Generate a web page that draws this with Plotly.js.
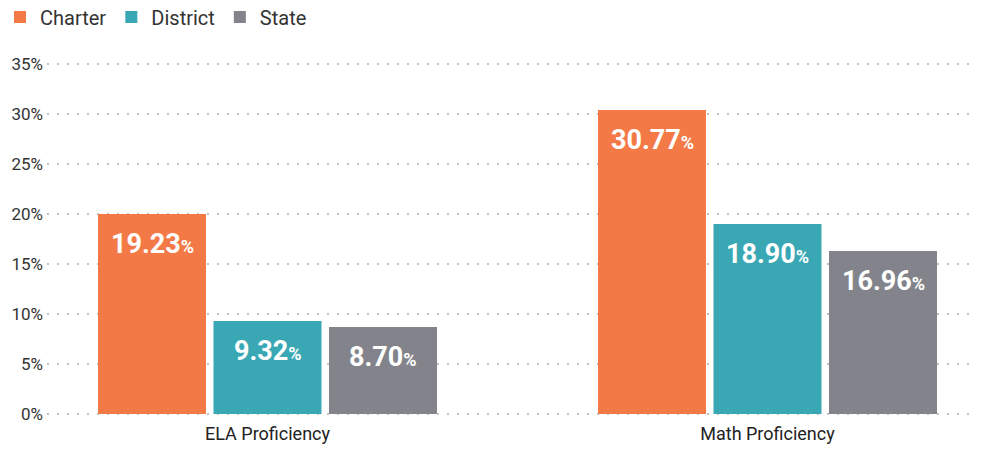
<!DOCTYPE html>
<html>
<head>
<meta charset="utf-8">
<script src="https://cdn.plot.ly/plotly-3.0.1.min.js"></script>
<style>html,body{margin:0;padding:0;background:#fff;}#chart{width:983px;height:450px;}</style>
</head>
<body>
<div id="chart"></div>
<script>
const categories = ['ELA Proficiency', 'Math Proficiency'];
const seriesNames = ['Charter', 'District', 'State'];
const charterValues = [20.0, 30.4];
const districtValues = [9.3, 19.0];
const stateValues = [8.7, 16.3];
const charterLabels = ['19.23', '30.77'];
const districtLabels = ['9.32', '18.90'];
const stateLabels = ['8.70', '16.96'];
const yTicks = [0, 5, 10, 15, 20, 25, 30, 35];
const yTickText = ['0%', '5%', '10%', '15%', '20%', '25%', '30%', '35%'];

const colors = ['#F37A47', '#39A8B4', '#83848B'];
const allValues = [charterValues, districtValues, stateValues];
const allLabels = [charterLabels, districtLabels, stateLabels];

const W = 983, H = 450;
const margin = {l: 47, r: 8, t: 61, b: 33, autoexpand: false};
const xRange = [-0.441, 1.415];
const bargap = 0.307;
const plotW = W - margin.l - margin.r;
const pxPerUnit = plotW / (xRange[1] - xRange[0]);
const slotPx = (1 - bargap) * pxPerUnit / 3;

const traces = seriesNames.map((name, i) => ({
  type: 'bar',
  name: name,
  x: categories,
  y: allValues[i],
  marker: {color: colors[i]},
  hoverinfo: 'skip'
}));

const annotations = [];
allValues.forEach((vals, i) => {
  vals.forEach((v, j) => {
    annotations.push({
      x: categories[j], y: v, xref: 'x', yref: 'y',
      xshift: (i - 1) * slotPx, yshift: -12,
      yanchor: 'top', xanchor: 'center',
      showarrow: false,
      text: allLabels[i][j] + '<span style="font-size:18px">%</span>',
      font: {family: 'Roboto, "DejaVu Sans", sans-serif', size: 27, color: '#ffffff', weight: 'bold'}
    });
  });
});

const layout = {
  width: W, height: H,
  margin: margin,
  paper_bgcolor: '#ffffff', plot_bgcolor: '#ffffff',
  barmode: 'group', bargap: bargap, bargroupgap: 0.065,
  font: {family: 'Roboto, sans-serif', color: '#333333'},
  showlegend: true,
  legend: {
    orientation: 'h', xref: 'container', yref: 'container',
    x: -5 / W, xanchor: 'left',
    y: 1 - 17 / H, yanchor: 'middle',
    font: {family: 'Roboto, sans-serif', size: 20, color: '#333333'},
    bgcolor: 'rgba(0,0,0,0)', traceorder: 'normal'
  },
  xaxis: {
    type: 'category', range: xRange, showgrid: false, zeroline: false,
    showline: false, ticks: '', ticklabelstandoff: 4, automargin: false,
    tickfont: {family: 'Roboto, sans-serif', size: 18, color: '#222222'}
  },
  yaxis: {
    range: [-0.3, 35.3], tickmode: 'array', tickvals: yTicks, ticktext: yTickText,
    showgrid: true, gridcolor: '#c2c2c2', gridwidth: 2, griddash: '2px,8px',
    zeroline: false, showline: false, ticks: '', automargin: false,
    ticklabelstandoff: 3,
    tickfont: {family: 'Roboto, sans-serif', size: 17, color: '#333333'}
  },
  annotations: annotations
};

Plotly.newPlot('chart', traces, layout, {displayModeBar: false, staticPlot: true});
</script>
</body>
</html>
